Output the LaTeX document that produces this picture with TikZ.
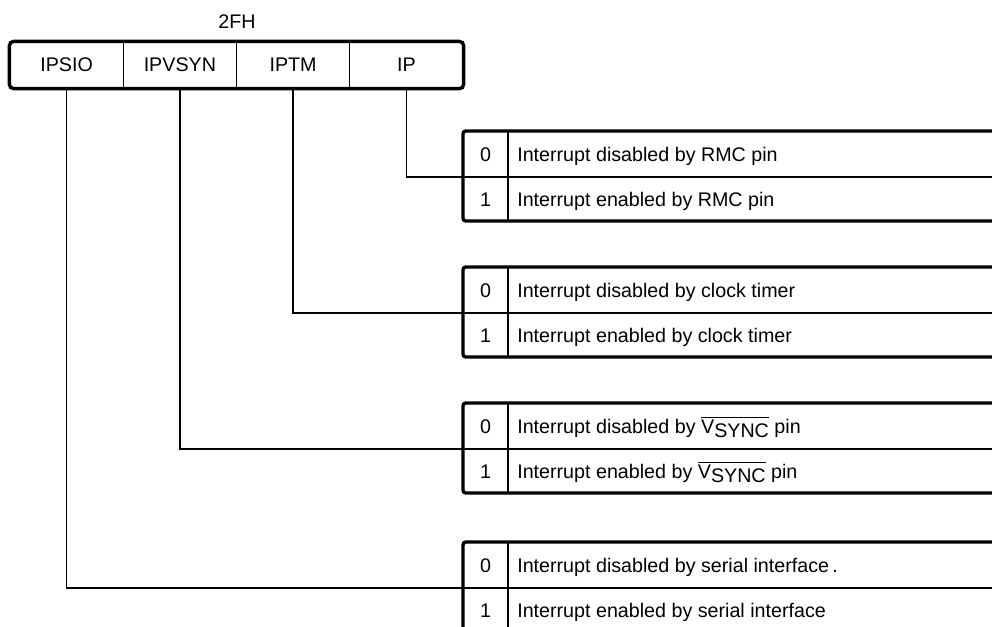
\documentclass[tikz,border=0pt]{standalone}
\usepackage{fontspec}
\setmainfont{Liberation Sans}
\usetikzlibrary{math}

\newcommand{\vsync}{\(\overline{\hbox{V\raisebox{-3pt}{SYNC}}}\)}

\begin{document}
\begin{tikzpicture}[x=0.025cm,y=-0.025cm,
  thinline/.style={line width=0.9pt},
  thickline/.style={line width=2.4pt},
  regcell/.style={draw,line width=0.9pt,minimum width=2.83cm,minimum height=1.15cm,inner sep=0pt,font=\fontsize{14}{16}\selectfont},
  txt/.style={font=\fontsize{14}{16}\selectfont,inner sep=0pt}]
\tikzmath{
\xl=10;
\cw=113.25;
\tl=463;
\td=508;
\tr=992;
\ha=46;
\hb=44;
}
\useasboundingbox (0,0) rectangle (992,626);

%register
\node[txt] (title) at (237,22) {2FH};
\foreach \n [count=\i from 0] in {IPSIO,IPVSYN,IPTM,IP}
  \node[regcell] (r\i) at (\xl+\cw/2+\i*\cw,65) {\n};
\draw[thickline,rounded corners=3pt] (r0.north west) rectangle (r3.south east);

%tables
\foreach \k/\yt/\da/\db in {
  1/131/{Interrupt disabled by RMC pin}/{Interrupt enabled by RMC pin},
  2/267/{Interrupt disabled by clock timer}/{Interrupt enabled by clock timer},
  3/403/{Interrupt disabled by \vsync{} pin}/{Interrupt enabled by \vsync{} pin},
  4/542/{Interrupt disabled by serial interface\,.}/{Interrupt enabled by serial interface}}{
  \coordinate (m\k) at (\tl,\yt+\ha);
  \draw[thickline,rounded corners=2pt] (\tr,\yt) -- (\tl,\yt) -- (\tl,\yt+\ha+\hb) -- (\tr,\yt+\ha+\hb);
  \draw[thinline] (m\k) -- (\tr,\yt+\ha);
  \draw[thinline] (\td,\yt) -- (\td,\yt+\ha+\hb);
  \node[txt,anchor=base] (z\k) at ({(\tl+\td)/2},\yt+\ha/2+7) {0};
  \node[txt,anchor=base] (o\k) at ({(\tl+\td)/2},\yt+\ha+\hb/2+7) {1};
  \node[txt,anchor=base west] (d\k) at (\td+9,\yt+\ha/2+7) {\da};
  \node[txt,anchor=base west] (e\k) at (\td+9,\yt+\ha+\hb/2+7) {\db};
}

%leads
\draw[thinline] (r3.south) |- (m1);
\draw[thinline] (r2.south) |- (m2);
\draw[thinline] (r1.south) |- (m3);
\draw[thinline] (r0.south) |- (m4);
\end{tikzpicture}
\end{document}
